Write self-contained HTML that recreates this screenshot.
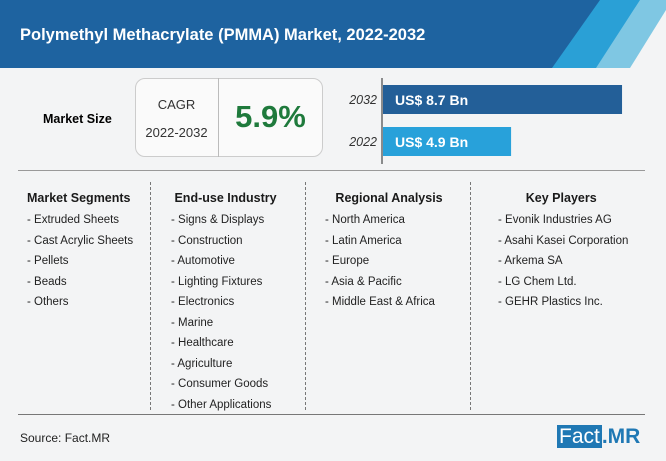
<!DOCTYPE html>
<html><head><meta charset="utf-8"><style>
body{margin:0;width:666px;height:461px;overflow:hidden;background:#f3f4f5;font-family:"Liberation Sans",sans-serif;position:relative}
.abs{position:absolute}
.col{position:absolute;top:191px;font-size:11.5px;color:#222}
.col h4{margin:0 0 9px;font-size:12.5px;font-weight:bold;color:#1a1a1a}
.col div{height:20.5px}
.vdiv{position:absolute;top:182px;height:228px;border-left:1px dashed #777}
</style></head><body>
<svg class="abs" style="left:0;top:0" width="666" height="70">
<polygon points="0,0 666,0 666,68 0,68" fill="#f3f4f5"/>
<polygon points="620,0 666,0 666,10 630,68 570,68" fill="#7fc7e3"/>
<polygon points="580,0 640,0 596,68 520,68" fill="#2aa0d6"/>
<polygon points="0,0 600,0 552,68 0,68" fill="#1e63a0"/>
<text x="20" y="40" font-size="16.5" font-weight="bold" fill="#fff" font-family="Liberation Sans, sans-serif">Polymethyl Methacrylate (PMMA) Market, 2022-2032</text>
</svg>
<div class="abs" style="left:43px;top:112px;font-size:12.5px;font-weight:bold">Market Size</div>
<div class="abs" style="left:135px;top:78px;width:186px;height:77px;border:1px solid #ccc;border-radius:10px;background:#fafafa"></div>
<div class="abs" style="left:218px;top:78px;height:79px;border-left:1px solid #bbb"></div>
<div class="abs" style="left:135px;top:91px;width:83px;text-align:center;font-size:13px;color:#333;line-height:28px">CAGR<br>2022-2032</div>
<div class="abs" style="left:219px;top:99px;width:103px;text-align:center;font-size:31px;font-weight:bold;color:#1f7a3c">5.9%</div>
<svg class="abs" id="bars" style="left:383px;top:76px;overflow:visible" width="283" height="90"></svg>
<div class="abs" style="left:18px;top:170px;width:627px;border-top:1px solid #999"></div>
<div class="vdiv" style="left:150px"></div><div class="vdiv" style="left:305px"></div><div class="vdiv" style="left:470px"></div>
<div class="col" style="left:27px"><h4>Market Segments</h4><div>- Extruded Sheets</div><div>- Cast Acrylic Sheets</div><div>- Pellets</div><div>- Beads</div><div>- Others</div></div>
<div class="col" style="left:171px"><h4>&nbsp;End-use Industry</h4><div>- Signs &amp; Displays</div><div>- Construction</div><div>- Automotive</div><div>- Lighting Fixtures</div><div>- Electronics</div><div>- Marine</div><div>- Healthcare</div><div>- Agriculture</div><div>- Consumer Goods</div><div>- Other Applications</div></div>
<div class="col" style="left:325px"><h4>&nbsp;&nbsp;&nbsp;Regional Analysis</h4><div>- North America</div><div>- Latin America</div><div>- Europe</div><div>- Asia &amp; Pacific</div><div>- Middle East &amp; Africa</div></div>
<div class="col" style="left:498px"><h4>&nbsp;&nbsp;&nbsp;&nbsp;&nbsp;&nbsp;&nbsp;&nbsp;Key Players</h4><div>- Evonik Industries AG</div><div>- Asahi Kasei Corporation</div><div>- Arkema SA</div><div>- LG Chem Ltd.</div><div>- GEHR Plastics Inc.</div></div>
<div class="abs" style="left:18px;top:414px;width:627px;border-top:1px solid #777"></div>
<div class="abs" style="left:20px;top:431px;font-size:12px;color:#222">Source: Fact.MR</div>
<div class="abs" style="left:557px;top:425px;font-size:21px;font-family:'Liberation Sans',sans-serif"><span style="background:#1f78b4;color:#fff;padding:0 2px">Fact</span><span style="color:#1f78b4;font-weight:bold">.MR</span></div>
<script>
const years=["2032","2022"];
const values=[8.7,4.9];
const labels=["US$ 8.7 Bn","US$ 4.9 Bn"];
const colors=["#235f98","#28a1da"];
const svg=document.getElementById('bars');
const NS="http://www.w3.org/2000/svg";
function xw(v){return Math.max(0,v*29.2-15);}
function yb(i){return 9+i*42;}
const ax=document.createElementNS(NS,'line');
ax.setAttribute('x1',-1);ax.setAttribute('x2',-1);ax.setAttribute('y1',2);ax.setAttribute('y2',88);ax.setAttribute('stroke','#222');


svg.appendChild(ax);
years.forEach((y,i)=>{
 const r=document.createElementNS(NS,'rect');
 r.setAttribute('x',0);r.setAttribute('y',yb(i));r.setAttribute('width',xw(values[i]));r.setAttribute('height',29);r.setAttribute('fill',colors[i]);
 
 
 svg.appendChild(r);
 const t=document.createElementNS(NS,'text');
 t.setAttribute('x',-6);t.setAttribute('y',yb(i)+19);t.setAttribute('text-anchor','end');t.setAttribute('font-size','12.5');t.setAttribute('fill','#333');t.setAttribute('font-style','italic');
 t.textContent=y;
 
 
 svg.appendChild(t);
 const v=document.createElementNS(NS,'text');
 v.setAttribute('x',12);v.setAttribute('y',yb(i)+20);v.setAttribute('font-size','14');v.setAttribute('font-weight','bold');v.setAttribute('fill','#fff');
 v.textContent=labels[i];
 
 
 svg.appendChild(v);
});
</script>
</body></html>
